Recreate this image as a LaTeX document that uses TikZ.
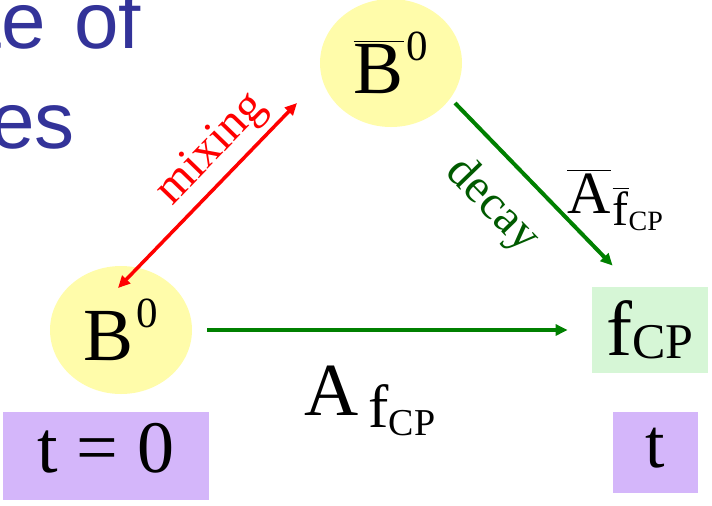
\documentclass[tikz,border=0pt]{standalone}
\usepackage{fontspec}
\setmainfont{Liberation Serif}
\newfontfamily\titlefont{Liberation Sans}
\usetikzlibrary{arrows.meta,shapes.geometric,calc}
\definecolor{mesonyellow}{RGB}{255,252,170}
\definecolor{finalgreen}{RGB}{214,246,214}
\definecolor{timepurple}{RGB}{212,182,250}
\definecolor{titleblue}{RGB}{51,51,153}
\definecolor{arrowgreen}{RGB}{0,128,0}
\definecolor{decaygreen}{RGB}{0,90,0}
% raised index and bar over a letter
\newcommand\pw[1]{\kern1.5pt\raisebox{16.5pt}{\fontsize{21.5}{22}\selectfont #1}}
\newcommand\bb[1]{$\overline{\hbox{#1}}$}

\begin{document}
\begin{tikzpicture}[x=0.5pt, y=-0.5pt,
    >={Triangle[length=6pt,width=5.5pt]},
    title/.style = {inner sep=0pt, text=titleblue, font=\titlefont\fontsize{40}{44}\selectfont},
    meson/.style = {ellipse, fill=mesonyellow, minimum width=71pt, minimum height=64pt, inner sep=0pt, font=\fontsize{37.5}{40}\selectfont},
    final/.style = {fill=finalgreen, minimum width=58pt, minimum height=43pt, inner sep=0pt, font=\fontsize{39}{40}\selectfont},
    timebox/.style = {fill=timepurple, inner sep=0pt, font=\fontsize{37}{40}\selectfont},
    amp/.style = {inner sep=0pt, anchor=base west},
    lbl/.style = {inner sep=0pt, font=\fontsize{24}{26}\selectfont}]
    \useasboundingbox (0,0) rectangle (712,505);
    % slide title, cut at the left edge
    \node[title, anchor=base west] (title1) at (-21,48) {te\hskip14pt of};
    \node[title, anchor=base west] (title2) at (-10,148) {es};
    % states
    \node[meson] (b0bar) at (391,63) {\bb{B}\pw{0}};
    \node[meson] (b0) at (121,330) {B\pw{0}};
    \node[final] (fcp) at (650,330) {f\raisebox{-1.5pt}{\fontsize{25}{25}\selectfont CP}};
    \node[timebox, minimum width=103pt, minimum height=44pt, text depth=8pt] (tzero) at (106,456) {t = 0};
    \node[timebox, minimum width=42.5pt, minimum height=40.5pt, text depth=5pt, font=\fontsize{35}{36}\selectfont] (tend) at (655.5,452.5) {t};
    % amplitudes
    \node[amp] (afcp) at (304,415) {{\fontsize{37.5}{40}\selectfont A}\kern5pt\raisebox{-6pt}{\fontsize{30.5}{31}\selectfont f\raisebox{-4pt}{\fontsize{19}{20}\selectfont CP}}};
    \node[amp] (abarfcp) at (567,213) {{\fontsize{30}{30}\selectfont\bb{A}}\kern1pt\raisebox{-6pt}{\fontsize{24}{24}\selectfont\bb{f}\raisebox{-2.5pt}{\fontsize{14}{14}\selectfont CP}}};
    % arrows
    \draw[<->, red, line width=1.75pt] ($(b0)+(-3,-42)$) -- node[lbl, pos=0.64, sloped, above=2.75pt, text=red] (mixlbl) {mixing} ($(b0bar)+(-94,40)$);
    \draw[->, arrowgreen, line width=2pt] ($(b0bar)+(64,40)$) -- node[lbl, pos=0.44, sloped, below=10.5pt, text=decaygreen] (decaylbl) {decay} ($(fcp.north west)+(21,-21)$);
    \draw[->, arrowgreen, line width=2pt, shorten <=7.5pt, shorten >=12pt] (b0.east) -- (fcp.west);
\end{tikzpicture}
\end{document}
